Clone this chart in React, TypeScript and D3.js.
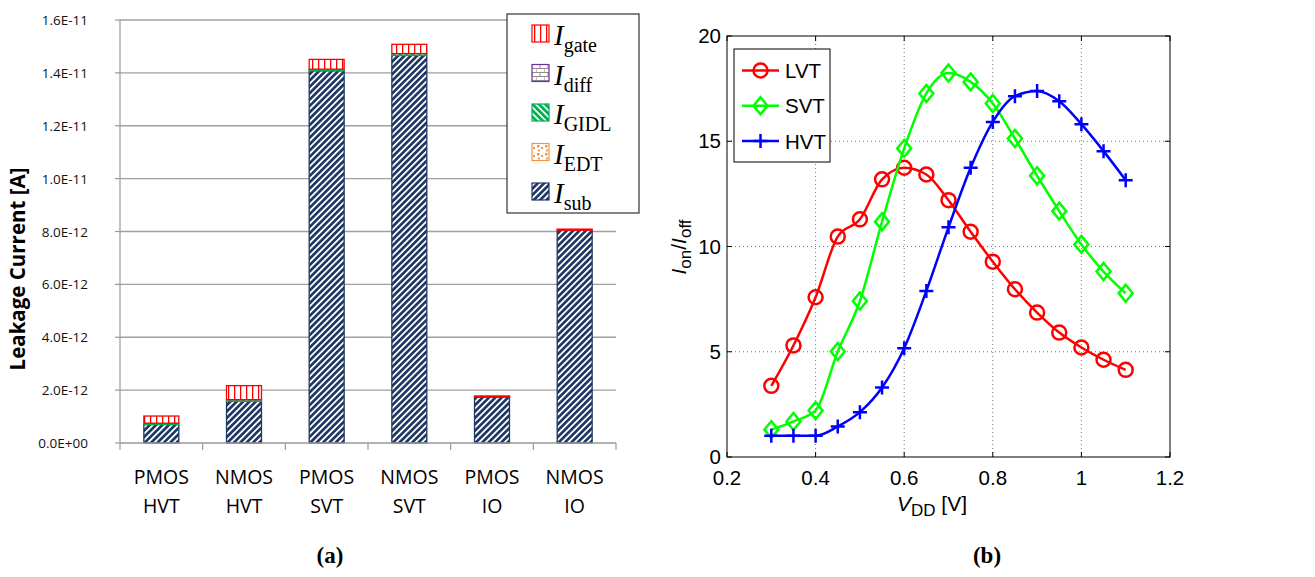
import React from "react";
import * as d3 from "d3";

// ---------- Left chart data (units: 1e-12 A) ----------
const categories = ["PMOS HVT", "NMOS HVT", "PMOS SVT", "NMOS SVT", "PMOS IO", "NMOS IO"];
const iSub = [0.7, 1.58, 14.08, 14.66, 1.74, 8.05];
const iEDT = [0, 0, 0, 0, 0, 0];
const iGIDL = [0.05, 0.06, 0.06, 0.07, 0, 0];
const iDiff = [0, 0, 0, 0, 0, 0];
const iGate = [0.27, 0.53, 0.37, 0.35, 0.04, 0.04];
const leftTicks = [0, 2, 4, 6, 8, 10, 12, 14, 16];
const leftTickLabels = ["0.0E+00", "2.0E-12", "4.0E-12", "6.0E-12", "8.0E-12", "1.0E-11", "1.2E-11", "1.4E-11", "1.6E-11"];

// ---------- Right chart data ----------
const vdd = [0.3, 0.35, 0.4, 0.45, 0.5, 0.55, 0.6, 0.65, 0.7, 0.75, 0.8, 0.85, 0.9, 0.95, 1.0, 1.05, 1.1];
const lvt = [3.38, 5.3, 7.59, 10.47, 11.29, 13.19, 13.74, 13.42, 12.2, 10.7, 9.28, 7.97, 6.86, 5.91, 5.2, 4.62, 4.14];
const svt = [1.3, 1.69, 2.21, 5.01, 7.41, 11.18, 14.66, 17.27, 18.24, 17.82, 16.79, 15.13, 13.36, 11.68, 10.1, 8.81, 7.78];
const hvt = [1.01, 1.01, 1.01, 1.45, 2.13, 3.3, 5.17, 7.89, 10.91, 13.74, 15.92, 17.14, 17.39, 16.9, 15.81, 14.53, 13.15];
const rightXTicks = [0.2, 0.4, 0.6, 0.8, 1, 1.2];
const rightYTicks = [0, 5, 10, 15, 20];

const seriesDefs = [
  { key: "sub", values: iSub, fill: "url(#pSub)", stroke: "#203864", label: "sub" },
  { key: "EDT", values: iEDT, fill: "url(#pEDT)", stroke: "#f79646", label: "EDT" },
  { key: "GIDL", values: iGIDL, fill: "url(#pGIDL)", stroke: "#00b050", label: "GIDL" },
  { key: "diff", values: iDiff, fill: "url(#pDiff)", stroke: "#7030a0", label: "diff" },
  { key: "gate", values: iGate, fill: "url(#pGate)", stroke: "#ff0000", label: "gate" },
];

const LeftChart = () => {
  const x0 = 120, x1 = 616, yTop = 20, yBot = 443;
  const y = d3.scaleLinear().domain([0, 16]).range([yBot, yTop]);
  const x = d3.scaleBand<string>().domain(categories).range([x0, x1]).paddingInner(0.577).paddingOuter(0.2885);
  const step = x.step();
  const table = categories.map((c, i) => {
    const row: any = { cat: c };
    seriesDefs.forEach((s) => (row[s.key] = s.values[i]));
    return row;
  });
  const stack = d3.stack<any>().keys(seriesDefs.map((s) => s.key))(table);
  const legendOrder = [...seriesDefs].reverse();
  const font = "'Open Sans', 'Liberation Sans', sans-serif";
  return (
    <g>
      {leftTicks.map((t) =>
        t === 0 ? null : (
          <line key={"g" + t} x1={x0} x2={x1} y1={y(t)} y2={y(t)} stroke="#a0a0a0" strokeWidth={1.3} />
        )
      )}
      <line x1={x0} x2={x0} y1={yTop} y2={yBot} stroke="#999" strokeWidth={1.2} />
      {leftTicks.map((t, i) => (
        <g key={"t" + t}>
          <line x1={x0 - 5} x2={x0} y1={y(t)} y2={y(t)} stroke="#999" strokeWidth={1.2} />
          <text x={88} y={y(t) + 5} textAnchor="end" fontSize={13.5} fontFamily={font} fill="#111">
            {leftTickLabels[i]}
          </text>
        </g>
      ))}
      {stack.map((layer, li) => (
        <g key={layer.key}>
          {layer.map((d, i) => {
            const h = y(d[0]) - y(d[1]);
            if (h <= 0) return null;
            return (
              <rect
                key={i}
                x={x(categories[i])!}
                y={y(d[1])}
                width={x.bandwidth()}
                height={h}
                fill={seriesDefs[li].fill}
                stroke={seriesDefs[li].stroke}
                strokeWidth={1.3}
              />
            );
          })}
        </g>
      ))}
      <line x1={x0} x2={x1} y1={yBot} y2={yBot} stroke="#999" strokeWidth={1.3} />
      {d3.range(categories.length + 1).map((i) => (
        <line key={"xt" + i} x1={x0 + i * step} x2={x0 + i * step} y1={yBot} y2={yBot + 7} stroke="#999" strokeWidth={1.2} />
      ))}
      {categories.map((c) => {
        const [a, b] = c.split(" ");
        const cx = x(c)! + x.bandwidth() / 2;
        return (
          <text key={c} x={cx} textAnchor="middle" fontSize={19.5} fontFamily={font} fill="#000">
            <tspan x={cx} y={484}>{a}</tspan>
            <tspan x={cx} y={513}>{b}</tspan>
          </text>
        );
      })}
      <text
        transform={`translate(25,${269}) rotate(-90)`}
        textAnchor="middle"
        fontSize={20.5}
        fontWeight="bold"
        fontFamily={font}
        fill="#000"
      >
        Leakage Current [A]
      </text>
      <rect x={507} y={14} width={132} height={199} fill="#fff" stroke="#333" strokeWidth={1.2} />
      {legendOrder.map((s, i) => {
        const yy = 25 + i * 39.5;
        return (
          <g key={"lg" + s.key}>
            <rect x={532} y={yy} width={17} height={17} fill={s.fill} stroke={s.stroke} strokeWidth={1.2} />
            <text x={554} y={yy + 20} fontFamily="'Liberation Serif', serif" fill="#000">
              <tspan fontSize={29} fontStyle="italic">I</tspan>
              <tspan fontSize={20} dy={7}>{s.label}</tspan>
            </text>
          </g>
        );
      })}
      <text x={330} y={563} textAnchor="middle" fontSize={23} fontWeight="bold" fontFamily="'Liberation Serif', serif">
        (a)
      </text>
    </g>
  );
};

const RightChart = () => {
  const x0 = 727, x1 = 1170, yTop = 36, yBot = 457;
  const x = d3.scaleLinear().domain([0.2, 1.2]).range([x0, x1]);
  const y = d3.scaleLinear().domain([0, 20]).range([yBot, yTop]);
  const font = "'Liberation Sans', Arial, sans-serif";
  const line = d3
    .line<number>()
    .x((_, i) => x(vdd[i]))
    .y((d) => y(d))
    .curve(d3.curveMonotoneX);
  const lines = [
    { name: "LVT", values: lvt, color: "#ff0000", marker: "circle" },
    { name: "SVT", values: svt, color: "#00ff00", marker: "diamond" },
    { name: "HVT", values: hvt, color: "#0000ff", marker: "plus" },
  ];
  const marker = (type: string, cx: number, cy: number, color: string, key: any) => {
    if (type === "circle")
      return <circle key={key} cx={cx} cy={cy} r={7} fill="none" stroke={color} strokeWidth={2.5} />;
    if (type === "diamond")
      return (
        <path
          key={key}
          d={`M${cx},${cy - 8.5}L${cx + 7},${cy}L${cx},${cy + 8.5}L${cx - 7},${cy}Z`}
          fill="none"
          stroke={color}
          strokeWidth={2.5}
        />
      );
    return (
      <path key={key} d={`M${cx - 7},${cy}H${cx + 7}M${cx},${cy - 7}V${cy + 7}`} fill="none" stroke={color} strokeWidth={2.5} />
    );
  };
  return (
    <g>
      <rect x={x0} y={yTop} width={x1 - x0} height={yBot - yTop} fill="#fff" />
      {rightXTicks.slice(1, -1).map((t) => (
        <line key={"gx" + t} x1={x(t)} x2={x(t)} y1={yTop} y2={yBot} stroke="#555" strokeWidth={0.8} strokeDasharray="1,3" />
      ))}
      {rightYTicks.slice(1, -1).map((t) => (
        <line key={"gy" + t} x1={x0} x2={x1} y1={y(t)} y2={y(t)} stroke="#555" strokeWidth={0.8} strokeDasharray="1,3" />
      ))}
      {rightXTicks.map((t) => (
        <g key={"tx" + t}>
          <line x1={x(t)} x2={x(t)} y1={yBot} y2={yBot - 5} stroke="#000" />
          <line x1={x(t)} x2={x(t)} y1={yTop} y2={yTop + 5} stroke="#000" />
          <text x={x(t)} y={yBot + 28} textAnchor="middle" fontSize={20.5} fontFamily={font}>
            {String(t)}
          </text>
        </g>
      ))}
      {rightYTicks.map((t) => (
        <g key={"ty" + t}>
          <line x1={x0} x2={x0 + 5} y1={y(t)} y2={y(t)} stroke="#000" />
          <line x1={x1} x2={x1 - 5} y1={y(t)} y2={y(t)} stroke="#000" />
          <text x={x0 - 6} y={y(t) + 7} textAnchor="end" fontSize={20.5} fontFamily={font}>
            {String(t)}
          </text>
        </g>
      ))}
      <rect x={x0} y={yTop} width={x1 - x0} height={yBot - yTop} fill="none" stroke="#000" strokeWidth={1} />
      {lines.map((l) => (
        <g key={l.name}>
          <path d={line(l.values) || ""} fill="none" stroke={l.color} strokeWidth={2.5} />
          {l.values.map((v, i) => marker(l.marker, x(vdd[i]), y(v), l.color, i))}
        </g>
      ))}
      <rect x={734} y={49} width={96} height={113} fill="#fff" stroke="#000" strokeWidth={1} />
      {lines.map((l, i) => {
        const yy = 70.5 + i * 35.3;
        return (
          <g key={"lg" + l.name}>
            <line x1={742} x2={779} y1={yy} y2={yy} stroke={l.color} strokeWidth={2.5} />
            {marker(l.marker, 760.5, yy, l.color, "m")}
            <text x={785} y={yy + 7.5} fontSize={20.5} fontFamily={font}>
              {l.name}
            </text>
          </g>
        );
      })}
      <text transform="translate(686,247) rotate(-90)" textAnchor="middle" fontFamily={font} fontSize={21}>
        <tspan fontStyle="italic">I</tspan>
        <tspan fontSize={17} dy={5}>on</tspan>
        <tspan dy={-5}>/</tspan>
        <tspan fontStyle="italic">I</tspan>
        <tspan fontSize={17} dy={5}>off</tspan>
      </text>
      <text x={932} y={511} textAnchor="middle" fontFamily={font} fontSize={21}>
        <tspan fontStyle="italic">V</tspan>
        <tspan fontSize={17} dy={5}>DD</tspan>
        <tspan dy={-5}> [V]</tspan>
      </text>
      <text x={987} y={563} textAnchor="middle" fontSize={23} fontWeight="bold" fontFamily="'Liberation Serif', serif">
        (b)
      </text>
    </g>
  );
};

export default function App() {
  return (
    <svg width={1315} height={577} style={{ position: "absolute", left: 0, top: 0, background: "#fff" }}>
      <defs>
        <pattern id="pSub" patternUnits="userSpaceOnUse" width={4.5} height={4.5} patternTransform="rotate(45)">
          <rect width={4.5} height={4.5} fill="#fff" />
          <rect width={2.7} height={4.5} fill="#1f3864" />
        </pattern>
        <pattern id="pGIDL" patternUnits="userSpaceOnUse" width={4.5} height={4.5} patternTransform="rotate(-45)">
          <rect width={4.5} height={4.5} fill="#fff" />
          <rect width={2.8} height={4.5} fill="#00b050" />
        </pattern>
        <pattern id="pGate" patternUnits="userSpaceOnUse" width={6} height={6}>
          <rect width={6} height={6} fill="#fff" />
          <rect x={0} width={1.3} height={6} fill="#ff0000" />
        </pattern>
        <pattern id="pEDT" patternUnits="userSpaceOnUse" width={8} height={8}>
          <rect width={8} height={8} fill="#fff" />
          <rect x={1} y={1} width={2.5} height={2.5} fill="#f79646" />
          <rect x={5} y={3} width={2} height={2} fill="#f79646" />
          <rect x={2} y={5.5} width={2} height={2} fill="#f79646" />
        </pattern>
        <pattern id="pDiff" patternUnits="userSpaceOnUse" width={8} height={8}>
          <rect width={8} height={8} fill="#fff" />
          <path d="M0,0.5H8M0,4.5H8M4,0.5V4.5M0,4.5V8" stroke="#8c8c8c" strokeWidth={1} fill="none" />
        </pattern>
      </defs>
      <LeftChart />
      <RightChart />
    </svg>
  );
}
